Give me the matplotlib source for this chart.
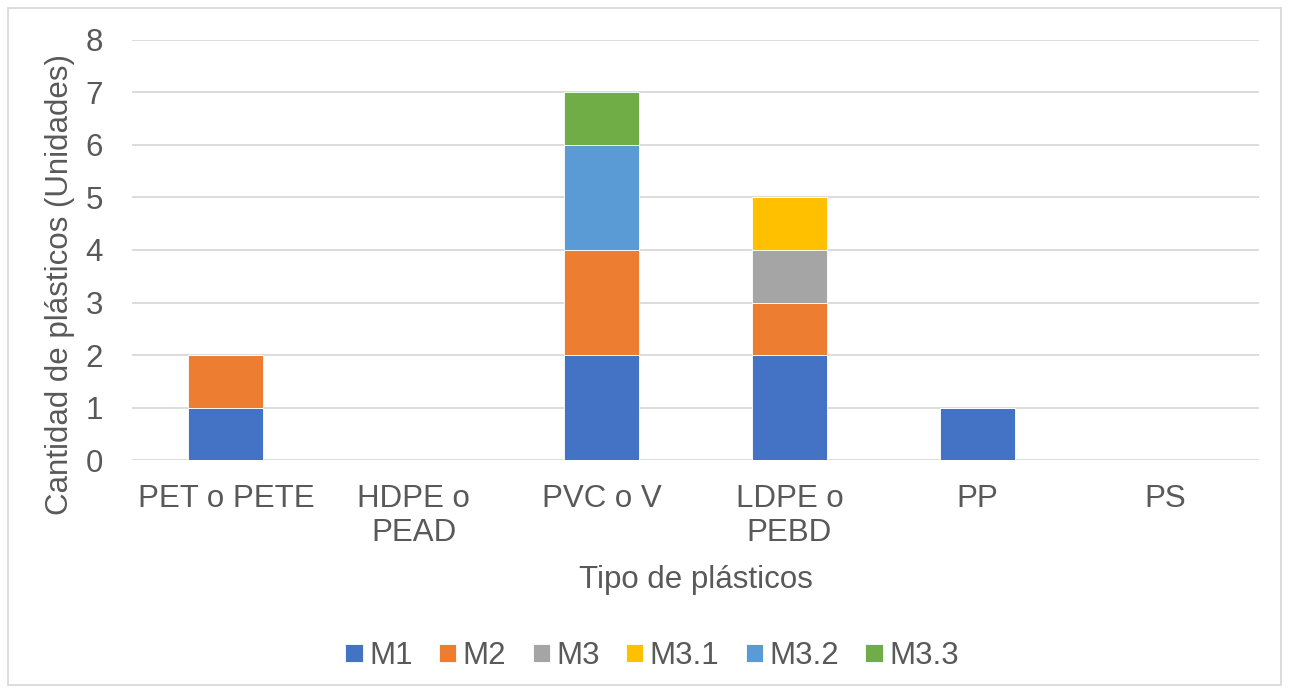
import numpy as np
import matplotlib
matplotlib.use("Agg")
import matplotlib.pyplot as plt
from matplotlib.patches import Rectangle

plt.rcParams["font.family"] = ["Liberation Sans", "DejaVu Sans"]

categories = ["PET o PETE", "HDPE o\nPEAD", "PVC o V", "LDPE o\nPEBD", "PP", "PS"]
series_names = ["M1", "M2", "M3", "M3.1", "M3.2", "M3.3"]
m1 = [1, 0, 2, 2, 1, 0]
m2 = [1, 0, 2, 1, 0, 0]
m3 = [0, 0, 0, 1, 0, 0]
m3_1 = [0, 0, 0, 1, 0, 0]
m3_2 = [0, 0, 2, 0, 0, 0]
m3_3 = [0, 0, 1, 0, 0, 0]
y_ticks = [0, 1, 2, 3, 4, 5, 6, 7, 8]

colors = ["#4472C4", "#ED7D31", "#A5A5A5", "#FFC000", "#5B9BD5", "#70AD47"]
text_color = "#595959"
fs = 22.5

fig = plt.figure(figsize=(12.89, 6.93), dpi=100)
ax = fig.add_axes([0.1024, 0.3362, 0.8743, 0.6061])

x = np.arange(len(categories))
bottom = np.zeros(len(categories))
for name, vals, c in zip(series_names, [m1, m2, m3, m3_1, m3_2, m3_3], colors):
    vals = np.array(vals, dtype=float)
    ax.bar(x, vals, width=0.4, bottom=bottom, color=c, label=name,
           edgecolor="white", linewidth=0.6, zorder=3)
    bottom += vals

ax.set_xlim(-0.5, len(categories) - 0.5)
ax.set_ylim(0, 8)
ax.set_yticks(y_ticks)
ax.set_xticks(x)
ax.set_xticklabels(categories, fontsize=fs, color=text_color, linespacing=1.2)
ax.tick_params(axis="y", labelsize=fs, labelcolor=text_color, length=0, pad=21)
ax.tick_params(axis="x", length=0, pad=17)
ax.grid(axis="y", color="#D9D9D9", linewidth=1.3, zorder=0)
for s in ax.spines.values():
    s.set_visible(False)

ax.set_xlabel("Tipo de plásticos", fontsize=fs, color=text_color, labelpad=12)
ax.set_ylabel("Cantidad de plásticos (Unidades)", fontsize=fs, color=text_color)
ax.yaxis.set_label_coords(-0.0506, 0.419)

ax.legend(loc="center", bbox_to_anchor=(652 / 1289, 1 - 656 / 693),
          bbox_transform=fig.transFigure, ncol=6, frameon=False,
          fontsize=fs, handlelength=0.55, handleheight=0.55, handletextpad=0.2,
          columnspacing=0.85, labelcolor=text_color)

fig.patches.append(Rectangle((8 / 1289, 8 / 693), 1 - 16 / 1289, 1 - 16 / 693,
                             transform=fig.transFigure, fill=False,
                             edgecolor="#D9D9D9", linewidth=1.3))

fig.savefig("out.png", dpi=100)
